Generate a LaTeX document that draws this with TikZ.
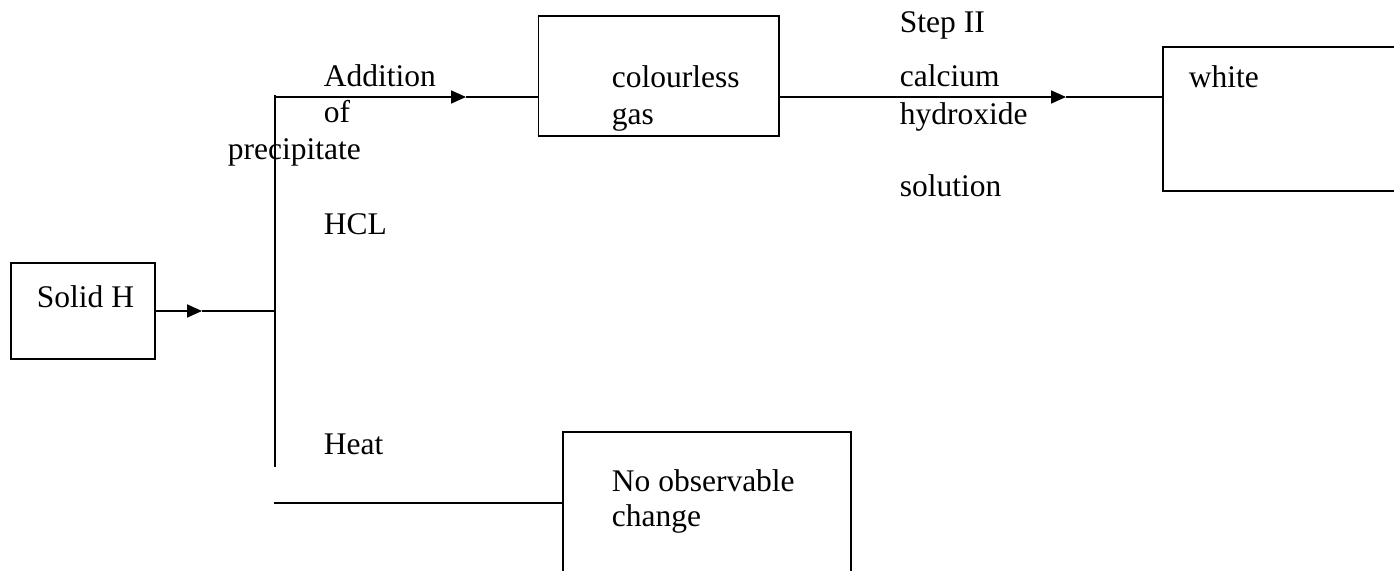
\documentclass[tikz,border=0pt]{standalone}
\usepackage{fontspec}
\setmainfont{Liberation Serif}
\usetikzlibrary{arrows.meta}
\begin{document}
\begin{tikzpicture}[x=0.5pt,y=-0.5pt,
  line width=0.9pt,
  box/.style={draw,rectangle,inner sep=0pt,line width=0.8pt},
  txt/.style={anchor=base west,inner sep=0pt,font=\fontsize{15.75pt}{18.5pt}\selectfont},
  arr/.style={-{Triangle[length=7.5pt,width=6.5pt]}}]
\useasboundingbox (0,0) rectangle (1394,571);
\clip (0,0) rectangle (1394,571);
% boxes
\node[box,minimum width=72.15pt,minimum height=48pt] (sh) at (82.9,311) {};
\node[box,minimum width=120.25pt,minimum height=60pt] (cg) at (658.75,76) {};
\node[box,minimum width=128.5pt,minimum height=72pt] (wb) at (1291.5,119) {};
\node[box,minimum width=144pt,minimum height=84pt] (no) at (707,516) {};
% coordinates
\coordinate (vtop) at (275,95);
\coordinate (vbot) at (275,467);
\coordinate (jm) at (275,311);
\coordinate (jt) at (275,97);
\coordinate (bl) at (274,503);
\coordinate (a1) at (202,311);
\coordinate (a2) at (466,97);
\coordinate (a3) at (1066,97);
% connectors
\draw[arr] (sh.east) -- (a1);
\draw (a1) -- (jm);
\draw (vtop) -- (vbot);
\draw[arr] (jt) -- (a2);
\draw (a2) -- (cg.west |- a2);
\draw[arr] (cg.east |- a3) -- (a3);
\draw (a3) -- (wb.west |- a3);
\draw (bl) -- (no.west |- bl);
% texts
\node[txt] (tsh) at (36,308) {Solid H};
\node[txt] (tadd) at (323,87) {Addition};
\node[txt] (tof) at (323,123) {of};
\node[txt] (tpre) at (227,160) {precipitate};
\node[txt] (thcl) at (323,235) {HCL};
\node[txt] (theat) at (323,455) {Heat};
\node[txt] (tcol) at (611,88) {colourless};
\node[txt] (tgas) at (611,125) {gas};
\node[txt] (tstep) at (899,33) {Step II};
\node[txt] (tcal) at (899,87) {calcium};
\node[txt] (thyd) at (899,125) {hydroxide};
\node[txt] (tsol) at (899,197) {solution};
\node[txt] (twh) at (1188,88) {white};
\node[txt] (tno) at (611,492) {No observable};
\node[txt] (tch) at (611,527) {change};
\end{tikzpicture}
\end{document}
